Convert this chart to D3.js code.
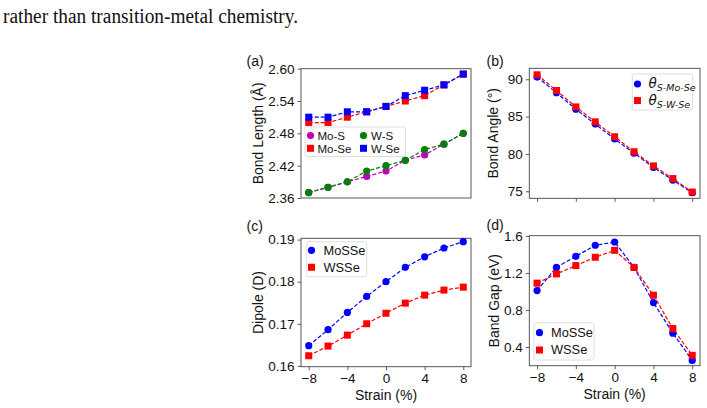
<!DOCTYPE html>
<html><head><meta charset="utf-8">
<script src="https://cdn.jsdelivr.net/npm/d3@7"></script>
<style>body{margin:0;background:#fff;} svg{display:block;}</style>
</head><body>
<svg id="c" width="707" height="408"></svg>
<script>
const strain = [-8,-6,-4,-2,0,2,4,6,8];
const xTicks = [-8,-4,0,4,8];
// (a) bond length
const moS  = [2.37,2.38,2.39,2.40,2.41,2.43,2.44,2.46,2.48];
const moSe = [2.50,2.50,2.51,2.52,2.53,2.54,2.55,2.57,2.59];
const wS   = [2.37,2.38,2.39,2.41,2.42,2.43,2.45,2.46,2.48];
const wSe  = [2.51,2.51,2.52,2.52,2.53,2.55,2.56,2.57,2.59];
const ticksA = [2.36,2.42,2.48,2.54,2.60];
// (b) bond angle
const angleMo = [90.3,88.2,86.0,84.0,82.0,80.1,78.2,76.5,74.8];
const angleW  = [90.6,88.5,86.3,84.3,82.3,80.3,78.4,76.7,74.9];
const ticksB = [75,80,85,90];
// (c) dipole
const dipoleMo = [0.1648,0.1686,0.1727,0.1765,0.1800,0.1834,0.1859,0.1880,0.1895];
const dipoleW  = [0.1624,0.1647,0.1673,0.1700,0.1725,0.1749,0.1768,0.1780,0.1787];
const ticksC = [0.16,0.17,0.18,0.19];
// (d) band gap
const gapMo = [1.01,1.26,1.38,1.50,1.535,1.26,0.88,0.55,0.255];
const gapW  = [1.09,1.19,1.28,1.37,1.445,1.26,0.96,0.60,0.31];
const ticksD = [0.4,0.8,1.2,1.6];

const svg = d3.select("#c");
const SANS = "'Liberation Sans', Arial, sans-serif";

svg.append("text").attr("x",3).attr("y",22.7)
  .attr("font-family","'Liberation Serif','DejaVu Serif',serif").attr("font-size",20)
  .attr("textLength",295).attr("lengthAdjust","spacingAndGlyphs")
  .attr("fill","#111").text("rather than transition-metal chemistry.");

function panel(o){
  const x = d3.scaleLinear().domain([-8.8,8.8]).range([o.l,o.r]);
  const y = d3.scaleLinear().domain(o.yd).range([o.b,o.t]);
  const g = svg.append("g");
  const ya = g.append("g").attr("transform",`translate(${o.l},0)`)
    .call(d3.axisLeft(y).tickValues(o.yt).tickFormat(d3.format(o.fmt)).tickSize(3.5).tickPadding(3));
  ya.select(".domain").remove();
  ya.selectAll("line").attr("stroke","#333").attr("stroke-width",0.8);
  ya.selectAll("text").attr("font-family",SANS).attr("font-size",13.5).attr("fill","#111");
  if(o.xt !== "none"){
    const xa = g.append("g").attr("transform",`translate(0,${o.b})`)
      .call(d3.axisBottom(x).tickValues(xTicks).tickSize(3.5).tickPadding(3.5)
        .tickFormat(o.xt==="labels" ? (d=> d<0 ? "\u2212"+Math.abs(d) : String(d)) : ()=>""));
    xa.select(".domain").remove();
    xa.selectAll("line").attr("stroke","#333").attr("stroke-width",0.8);
    xa.selectAll("text").attr("font-family",SANS).attr("font-size",13.5).attr("fill","#111");
  }
  g.append("rect").attr("x",o.l).attr("y",o.t).attr("width",o.r-o.l).attr("height",o.b-o.t)
    .attr("fill","none").attr("stroke","#444").attr("stroke-width",0.9);
  const line = d3.line().x((d,i)=>x(strain[i])).y(d=>y(d));
  o.series.forEach(s=>{
    g.append("path").attr("d",line(s.v)).attr("fill","none").attr("stroke",s.c)
      .attr("stroke-width",1.2).attr("stroke-dasharray","4,2");
  });
  o.series.forEach(s=>{
    s.v.forEach((d,i)=>drawMarker(g,s.m,x(strain[i]),y(d),s.c));
  });
  g.append("text").attr("transform",`translate(${o.ylx},${(o.t+o.b)/2}) rotate(-90)`)
    .attr("text-anchor","middle").attr("font-family",SANS).attr("font-size",14).attr("fill","#111")
    .text(o.ylabel);
  if(o.xt==="labels"){
    g.append("text").attr("x",(o.l+o.r)/2).attr("y",o.b+33).attr("text-anchor","middle")
      .attr("font-family",SANS).attr("font-size",14).attr("fill","#111").text("Strain (%)");
  }
  g.append("text").attr("x",o.px).attr("y",o.py).attr("font-family",SANS).attr("font-size",14).attr("fill","#111").text(o.letter);
  return g;
}
function drawMarker(g,m,cx,cy,c){
  if(m==="o") g.append("circle").attr("cx",cx).attr("cy",cy).attr("r",3.6).attr("fill",c);
  else g.append("rect").attr("x",cx-3.5).attr("y",cy-3.5).attr("width",7).attr("height",7).attr("fill",c);
}
function legendBox(g,x0,y0,w,h){
  g.append("rect").attr("x",x0).attr("y",y0).attr("width",w).attr("height",h).attr("rx",2)
    .attr("fill","#fff").attr("fill-opacity",0.8).attr("stroke","#d5d5d5").attr("stroke-width",0.8);
}
function legendItem(g,m,c,mx,my,tx,label,fs){
  drawMarker(g,m,mx,my,c);
  g.append("text").attr("x",tx).attr("y",my+4.2).attr("font-family",SANS).attr("font-size",fs||12.8).attr("fill","#111").text(label);
}

const BLUE="#0000ff", RED="#ff0000", GREEN="#008000", MAG="#bf00bf";

const ga = panel({l:301,r:471,t:68.7,b:198,yd:[2.36,2.60],yt:ticksA,fmt:".2f",xt:"none",
  ylabel:"Bond Length (Å)",ylx:262.5,letter:"(a)",px:246.5,py:66,
  series:[{v:moS,c:MAG,m:"o"},{v:moSe,c:RED,m:"s"},{v:wS,c:GREEN,m:"o"},{v:wSe,c:BLUE,m:"s"}]});
legendBox(ga,305,127,100.5,29.5);
legendItem(ga,"o",MAG,310.5,135.5,317.5,"Mo-S",11.5);
legendItem(ga,"s",RED,310.5,148.3,317.5,"Mo-Se",11.5);
legendItem(ga,"o",GREEN,363.5,135.5,371,"W-S",11.5);
legendItem(ga,"s",BLUE,363.5,148.3,371,"W-Se",11.5);

const gb = panel({l:529.3,r:700,t:68.3,b:198.3,yd:[74.06,91.47],yt:ticksB,fmt:"d",xt:"ticks",
  ylabel:"Bond Angle (°)",ylx:498,letter:"(b)",px:486.5,py:66,
  series:[{v:angleMo,c:BLUE,m:"o"},{v:angleW,c:RED,m:"s"}]});
legendBox(gb,632.3,74,60.4,36);
function thetaItem(g,m,c,my,sub){
  drawMarker(g,m,637.5,my,c);
  const t = g.append("text").attr("x",648.5).attr("y",my+4).attr("font-family","'DejaVu Sans',sans-serif")
    .attr("font-style","italic").attr("fill","#111");
  t.append("tspan").attr("font-size",13.5).text("θ");
  t.append("tspan").attr("font-size",9.5).attr("dy",3).text(sub);
}
thetaItem(gb,"o",BLUE,84,"S-Mo-Se");
thetaItem(gb,"s",RED,100.5,"S-W-Se");

const gc = panel({l:301,r:471,t:238.3,b:366.7,yd:[0.1598,0.1903],yt:ticksC,fmt:".2f",xt:"labels",
  ylabel:"Dipole (D)",ylx:262.5,letter:"(c)",px:246.5,py:231,
  series:[{v:dipoleMo,c:BLUE,m:"o"},{v:dipoleW,c:RED,m:"s"}]});
legendBox(gc,306.7,241.7,60,35);
legendItem(gc,"o",BLUE,311.5,250.3,323.5,"MoSSe");
legendItem(gc,"s",RED,311.5,267.3,323.5,"WSSe");

const gd = panel({l:529.3,r:700,t:235.7,b:365.7,yd:[0.198,1.603],yt:ticksD,fmt:".1f",xt:"labels",
  ylabel:"Band Gap (eV)",ylx:498.5,letter:"(d)",px:486.5,py:229.5,
  series:[{v:gapMo,c:BLUE,m:"o"},{v:gapW,c:RED,m:"s"}]});
legendBox(gd,534,322.7,60,37.3);
legendItem(gd,"o",BLUE,539.5,332.7,551,"MoSSe");
legendItem(gd,"s",RED,539.5,350,551,"WSSe");
</script>
</body></html>
